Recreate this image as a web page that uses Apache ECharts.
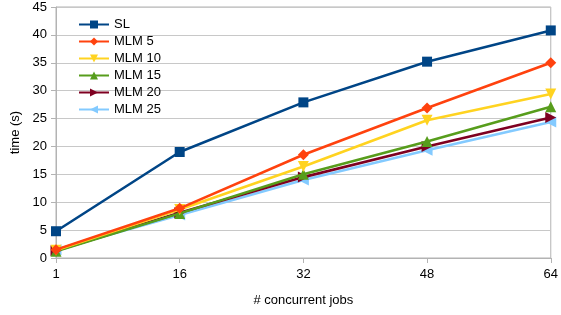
<!DOCTYPE html>
<html lang="en">
<head>
<meta charset="UTF-8">
<script src="https://cdn.jsdelivr.net/npm/echarts@6/dist/echarts.min.js"></script>
<title>time vs concurrent jobs</title>
<style>
  *{margin:0;padding:0}
  html,body{width:100%;height:100%;background:#fff}
</style>
</head>
<body>
<div id="main" style="width:561px;height:315px"></div>
<script type="text/javascript">
// data
var jobs = ['1', '16', '32', '48', '64'];
var sl    = [4.8, 19.0, 27.9, 35.2, 40.8];
var mlm5  = [1.5, 8.9, 18.5, 26.9, 35.0];
var mlm10 = [1.4, 8.7, 16.4, 24.7, 29.4];
var mlm15 = [1.2, 8.0, 15.0, 20.9, 27.1];
var mlm20 = [1.3, 8.1, 14.5, 20.0, 25.2];
var mlm25 = [1.5, 7.7, 14.0, 19.3, 24.4];

var names  = ['SL', 'MLM 5', 'MLM 10', 'MLM 15', 'MLM 20', 'MLM 25'];
var colors = ['#004586', '#ff420e', '#ffd320', '#579d1c', '#7e0021', '#83caff'];
var symbols = [
  'rect',
  'diamond',
  'path://M0,0L10,0L5,9Z',
  'path://M5,0L10,9L0,9Z',
  'path://M0,0L9,5L0,10Z',
  'path://M9,0L0,5L9,10Z'
];
var values = [sl, mlm5, mlm10, mlm15, mlm20, mlm25];

var font = 'Liberation Sans';
var series = [];
for (var i = 0; i < names.length; i++) {
  series.push({
    name: names[i],
    type: 'line',
    data: values[i],
    symbol: symbols[i],
    symbolSize: i === 0 ? 10 : 11,
    showAllSymbol: true,
    lineStyle: {width: 2.6, color: colors[i]},
    itemStyle: {color: colors[i]},
    z: 10 - i
  });
}

var myChart = echarts.init(document.getElementById('main'));
var option = {
  animation: false,
  textStyle: {fontFamily: font},
  grid: {left: 56, right: 7, top: 7, bottom: 57, show: true, borderColor: '#b3b3b3', borderWidth: 1},
  legend: {
    orient: 'vertical',
    left: 73, top: 13,
    itemGap: 4,
    itemWidth: 30, itemHeight: 10,
    textStyle: {fontFamily: font, fontSize: 13, color: '#000'},
    data: names
  },
  xAxis: {
    type: 'category',
    data: jobs,
    boundaryGap: false,
    name: '# concurrent jobs',
    nameLocation: 'middle',
    nameGap: 36,
    nameTextStyle: {fontFamily: font, fontSize: 13, color: '#000'},
    axisLine: {lineStyle: {color: '#b3b3b3'}},
    axisTick: {show: true, length: 5, lineStyle: {color: '#b3b3b3'}},
    axisLabel: {fontFamily: font, fontSize: 13, color: '#000', margin: 10},
    splitLine: {show: false}
  },
  yAxis: {
    type: 'value',
    min: 0, max: 45, interval: 5,
    name: 'time (s)',
    nameLocation: 'middle',
    nameGap: 34,
    nameTextStyle: {fontFamily: font, fontSize: 13, color: '#000'},
    axisLine: {show: true, lineStyle: {color: '#b3b3b3'}},
    axisTick: {show: true, length: 5, lineStyle: {color: '#b3b3b3'}},
    axisLabel: {fontFamily: font, fontSize: 13, color: '#000', margin: 9},
    splitLine: {lineStyle: {color: '#c8c8c8'}}
  },
  series: series
};
myChart.setOption(option);
</script>
</body>
</html>
